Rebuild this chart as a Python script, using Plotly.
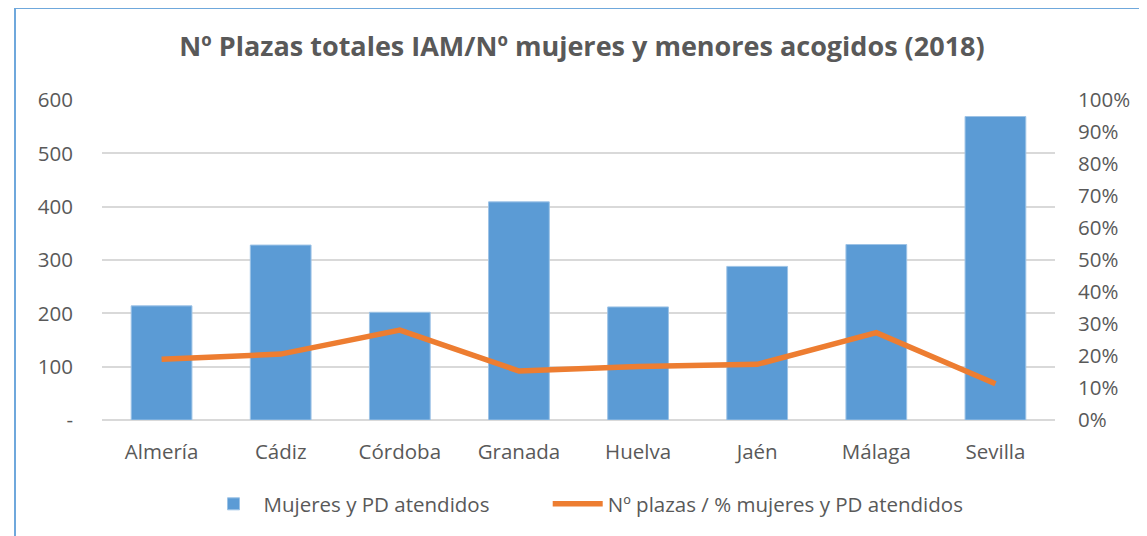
import plotly.graph_objects as go

categories = ["Almería", "Cádiz", "Córdoba", "Granada", "Huelva", "Jaén", "Málaga", "Sevilla"]
mujeres_pd = [214, 328, 202, 409, 212, 288, 329, 569]
ratio_plazas = [0.19, 0.206, 0.281, 0.153, 0.167, 0.174, 0.273, 0.113]
left_ticks = [0, 100, 200, 300, 400, 500, 600]
left_labels = ["-", "100", "200", "300", "400", "500", "600"]

FONT = "Open Sans"
TXT = "#595959"
FS = 20.5
PAD = "\u00a0" * 10  # spacing between the two legend entries

fig = go.Figure()
fig.add_trace(go.Bar(
    x=categories, y=mujeres_pd, name="Mujeres y PD atendidos" + PAD,
    marker=dict(color="#5B9BD5", line=dict(color="#9DC3E6", width=1)),
    yaxis="y",
))
fig.add_trace(go.Scatter(
    x=categories, y=ratio_plazas, name="Nº plazas / % mujeres y PD atendidos",
    mode="lines", line=dict(color="#ED7D31", width=5.5),
    yaxis="y2",
))

OFF = 8  # page body margin
W, H = 1147 - OFF, 536 - OFF
L, T = 102 - OFF, 100 - OFF
R = W - (1055 - OFF)
B = H - (420 - OFF)
pw, ph = W - L - R, H - T - B

def px_x(x):
    return (x - OFF - L) / pw

def px_y(y):
    return (ph - (y - OFF - T)) / ph

fig.update_layout(
    width=W, height=H,
    margin=dict(l=L, r=R, t=T, b=B, autoexpand=False),
    paper_bgcolor="white", plot_bgcolor="white",
    font=dict(family=FONT, color=TXT, size=FS),
    title=dict(text="<b>Nº Plazas totales IAM/Nº mujeres y menores acogidos (2018)</b>",
               x=px_x(582), xref="paper", xanchor="center",
               y=1 - (47 - OFF) / H, yref="container", yanchor="middle",
               font=dict(family=FONT, size=27, color=TXT)),
    bargap=0.49,
    xaxis=dict(type="category", showgrid=False, showline=False, ticks="",
               tickfont=dict(size=FS, color=TXT), ticklabelstandoff=17),
    yaxis=dict(range=[0, 600], tickvals=left_ticks, ticktext=left_labels,
               showgrid=True, gridcolor="#D9D9D9", gridwidth=1.5,
               zeroline=True, zerolinecolor="#D9D9D9", zerolinewidth=1.5,
               showline=False, ticks="", ticklabelstandoff=28,
               tickfont=dict(size=FS, color=TXT)),
    yaxis2=dict(range=[0, 1], dtick=0.1, tickformat=".0%", overlaying="y", side="right",
                showgrid=False, zeroline=False, showline=False, ticks="",
                ticklabelstandoff=22, tickfont=dict(size=FS, color=TXT)),
    legend=dict(orientation="h", x=px_x(586), xanchor="center",
                y=px_y(504), yanchor="middle",
                font=dict(size=FS, color=TXT), itemwidth=50,
                traceorder="normal"),
    showlegend=True,
)

# chart border (outer frame, partly cut off like the reference)
fig.add_shape(type="rect", xref="paper", yref="paper",
              x0=px_x(15), x1=px_x(1170),
              y0=px_y(560), y1=px_y(8),
              line=dict(color="#6FA8DC", width=2), fillcolor="rgba(0,0,0,0)", layer="below")

fig.write_html("out.html")
